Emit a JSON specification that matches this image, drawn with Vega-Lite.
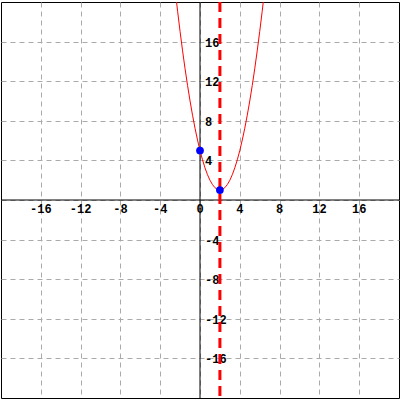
{
  "$schema": "https://vega.github.io/schema/vega-lite/v6.json",
  "width": 400,
  "height": 400,
  "padding": 0,
  "autosize": {"type": "fit", "contains": "padding"},
  "background": "white",
  "config": {"view": {"stroke": "black", "strokeWidth": 1}},
  "datasets": {
    "curve": [
      {"x": -2.5, "y": 21.25}, {"x": -2.25, "y": 19.0625}, {"x": -2, "y": 17}, {"x": -1.75, "y": 15.0625},
      {"x": -1.5, "y": 13.25}, {"x": -1.25, "y": 11.5625}, {"x": -1, "y": 10}, {"x": -0.75, "y": 8.5625},
      {"x": -0.5, "y": 7.25}, {"x": -0.25, "y": 6.0625}, {"x": 0, "y": 5}, {"x": 0.25, "y": 4.0625},
      {"x": 0.5, "y": 3.25}, {"x": 0.75, "y": 2.5625}, {"x": 1, "y": 2}, {"x": 1.25, "y": 1.5625},
      {"x": 1.5, "y": 1.25}, {"x": 1.75, "y": 1.0625}, {"x": 2, "y": 1}, {"x": 2.25, "y": 1.0625},
      {"x": 2.5, "y": 1.25}, {"x": 2.75, "y": 1.5625}, {"x": 3, "y": 2}, {"x": 3.25, "y": 2.5625},
      {"x": 3.5, "y": 3.25}, {"x": 3.75, "y": 4.0625}, {"x": 4, "y": 5}, {"x": 4.25, "y": 6.0625},
      {"x": 4.5, "y": 7.25}, {"x": 4.75, "y": 8.5625}, {"x": 5, "y": 10}, {"x": 5.25, "y": 11.5625},
      {"x": 5.5, "y": 13.25}, {"x": 5.75, "y": 15.0625}, {"x": 6, "y": 17}, {"x": 6.25, "y": 19.0625},
      {"x": 6.5, "y": 21.25}
    ],
    "points": [{"x": 0, "y": 5}, {"x": 2, "y": 1}],
    "xlabels": [
      {"v": -16, "t": "-16"}, {"v": -12, "t": "-12"}, {"v": -8, "t": "-8"}, {"v": -4, "t": "-4"},
      {"v": 0, "t": "0"}, {"v": 4, "t": "4"}, {"v": 8, "t": "8"}, {"v": 12, "t": "12"}, {"v": 16, "t": "16"}
    ],
    "ylabels": [
      {"v": -16, "t": "-16"}, {"v": -12, "t": "-12"}, {"v": -8, "t": "-8"}, {"v": -4, "t": "-4"},
      {"v": 4, "t": "4"}, {"v": 8, "t": "8"}, {"v": 12, "t": "12"}, {"v": 16, "t": "16"}
    ],
    "zero": [{"v": 0}],
    "sym": [{"v": 2}]
  },
  "layer": [
    {
      "data": {"name": "zero"},
      "mark": {"type": "rule", "color": "black", "strokeWidth": 1},
      "encoding": {
        "x": {"field": "v", "type": "quantitative", "scale": {"domain": [-20, 20], "nice": false},
          "axis": {"values": [-16, -12, -8, -4, 0, 4, 8, 12, 16], "grid": true, "gridDash": [5, 4], "gridColor": "#aaaaaa", "gridWidth": 1, "labels": false, "ticks": false, "domain": false, "title": null}}
      }
    },
    {
      "data": {"name": "zero"},
      "mark": {"type": "rule", "color": "black", "strokeWidth": 1},
      "encoding": {
        "y": {"field": "v", "type": "quantitative", "scale": {"domain": [-20, 20], "nice": false},
          "axis": {"values": [-16, -12, -8, -4, 0, 4, 8, 12, 16], "grid": true, "gridDash": [5, 4], "gridColor": "#aaaaaa", "gridWidth": 1, "labels": false, "ticks": false, "domain": false, "title": null}}
      }
    },
    {
      "data": {"name": "xlabels"},
      "mark": {"type": "text", "font": "Liberation Mono", "fontWeight": "bold", "fontSize": 12, "baseline": "middle", "align": "center", "dy": 9, "color": "black"},
      "encoding": {
        "x": {"field": "v", "type": "quantitative"},
        "y": {"datum": 0, "type": "quantitative"},
        "text": {"field": "t"}
      }
    },
    {
      "data": {"name": "ylabels"},
      "mark": {"type": "text", "font": "Liberation Mono", "fontWeight": "bold", "fontSize": 12, "baseline": "middle", "align": "left", "dx": 5, "dy": 1, "color": "black"},
      "encoding": {
        "y": {"field": "v", "type": "quantitative"},
        "x": {"datum": 0, "type": "quantitative"},
        "text": {"field": "t"}
      }
    },
    {
      "data": {"name": "sym"},
      "mark": {"type": "rule", "color": "#ff0000", "strokeWidth": 3, "strokeDash": [10, 6]},
      "encoding": {
        "x": {"field": "v", "type": "quantitative"}
      }
    },
    {
      "data": {"name": "curve"},
      "mark": {"type": "line", "color": "#ff0000", "strokeWidth": 1, "clip": true},
      "encoding": {
        "x": {"field": "x", "type": "quantitative"},
        "y": {"field": "y", "type": "quantitative"}
      }
    },
    {
      "data": {"name": "points"},
      "mark": {"type": "point", "filled": true, "color": "#0000ff", "opacity": 1, "size": 60},
      "encoding": {
        "x": {"field": "x", "type": "quantitative"},
        "y": {"field": "y", "type": "quantitative"}
      }
    }
  ]
}
